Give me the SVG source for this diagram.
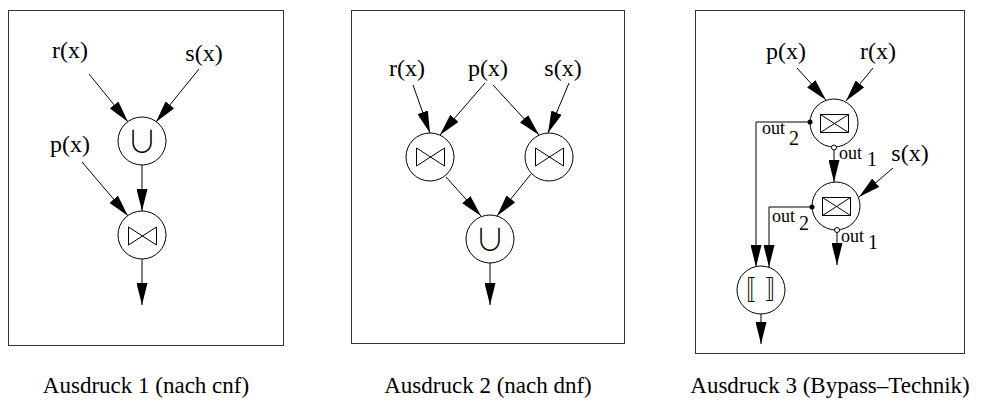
<svg xmlns="http://www.w3.org/2000/svg" width="992" height="402" viewBox="0 0 992 402">
<defs>
<marker id="ah" markerUnits="userSpaceOnUse" markerWidth="22" markerHeight="11" refX="22" refY="5.5" orient="auto">
<path d="M0,0 L22,5.5 L0,11 Z" fill="#000"/>
</marker>
<style>
.frame{fill:#fff;stroke:#333;stroke-width:1}
.node{fill:#fff;stroke:#000;stroke-width:1}
.sym{fill:none;stroke:#000;stroke-width:1}
.edge{fill:none;stroke:#000;stroke-width:1;marker-end:url(#ah)}
.lbl{font-family:"Liberation Serif","Times New Roman",serif;font-size:24px;fill:#000;text-anchor:middle}
.cap{font-family:"Liberation Serif","Times New Roman",serif;font-size:23px;fill:#000;text-anchor:middle}
.out{font-family:"Liberation Serif","Times New Roman",serif;font-size:18px;fill:#000}
.sub{font-size:20px}
.op{font-family:"Noto Sans CJK JP","DejaVu Sans",sans-serif;font-size:30px;font-weight:300;fill:#000;text-anchor:middle}
.br{font-family:"Noto Sans CJK JP","DejaVu Sans",sans-serif;font-size:25px;font-weight:300;fill:#000;text-anchor:middle}
</style>
</defs>
<rect width="992" height="402" fill="#fff"/>

<g id="frames">
<rect class="frame" x="8.5" y="10.5" width="275" height="335"/>
<rect class="frame" x="351.5" y="10.5" width="273" height="333"/>
<rect class="frame" x="695.5" y="10.5" width="269" height="343"/>
</g>

<g id="connectors">
<line class="edge" x1="89" y1="74" x2="128" y2="122"/>
<line class="edge" x1="199" y1="69" x2="156" y2="122"/>
<line class="edge" x1="82" y1="162" x2="128" y2="216"/>
<line class="edge" x1="142" y1="165" x2="142" y2="211"/>
<line class="edge" x1="142" y1="259" x2="142" y2="305"/>
<line class="edge" x1="413" y1="85" x2="430" y2="133"/>
<line class="edge" x1="485" y1="83" x2="440" y2="135"/>
<line class="edge" x1="493" y1="85" x2="539" y2="135"/>
<line class="edge" x1="569" y1="83" x2="548" y2="133"/>
<line class="edge" x1="446" y1="177" x2="481" y2="216"/>
<line class="edge" x1="531" y1="174" x2="497" y2="216"/>
<line class="edge" x1="490" y1="263" x2="490" y2="305"/>
<line class="edge" x1="797" y1="68" x2="826" y2="100"/>
<line class="edge" x1="873" y1="68" x2="846" y2="101"/>
<polyline class="edge" points="810,122 756,122 756,267"/>
<line class="edge" x1="834" y1="150" x2="834" y2="182"/>
<line class="edge" x1="893" y1="168" x2="859" y2="197"/>
<polyline class="edge" points="812,207 769,207 769,267"/>
<line class="edge" x1="837" y1="232" x2="837" y2="265"/>
<line class="edge" x1="761" y1="314" x2="761" y2="344"/>
</g>

<g id="p1-r"><text class="lbl" x="70" y="58">r(x)</text></g>
<g id="p1-s"><text class="lbl" x="204" y="61">s(x)</text></g>
<g id="p1-p"><text class="lbl" x="70" y="152">p(x)</text></g>
<g id="p1-union">
<circle class="node" cx="142" cy="141" r="24"/>
<text class="op" x="142" y="152">∪</text>
</g>
<g id="p1-join">
<circle class="node" cx="142" cy="235" r="24"/>
<path class="sym" d="M128.5,227 V245 L156.5,227 V245 Z"/>
</g>

<g id="p2-r"><text class="lbl" x="407" y="76">r(x)</text></g>
<g id="p2-p"><text class="lbl" x="488" y="76">p(x)</text></g>
<g id="p2-s"><text class="lbl" x="563" y="76">s(x)</text></g>
<g id="p2-join-left">
<circle class="node" cx="430" cy="157" r="24"/>
<path class="sym" d="M416.5,148 V166 L444.5,148 V166 Z"/>
</g>
<g id="p2-join-right">
<circle class="node" cx="549" cy="157" r="24"/>
<path class="sym" d="M535.5,148 V166 L563.5,148 V166 Z"/>
</g>
<g id="p2-union">
<circle class="node" cx="490" cy="239" r="24"/>
<text class="op" x="490" y="250">∪</text>
</g>

<g id="p3-p"><text class="lbl" x="786" y="59">p(x)</text></g>
<g id="p3-r"><text class="lbl" x="878" y="59">r(x)</text></g>
<g id="p3-s"><text class="lbl" x="910" y="161">s(x)</text></g>
<g id="p3-bypass-top">
<circle class="node" cx="834" cy="123" r="24"/>
<rect class="sym" x="820.5" y="114.5" width="28" height="18"/>
<path class="sym" d="M820.5,114.5 L848.5,132.5 M848.5,114.5 L820.5,132.5"/>
<circle cx="810" cy="122" r="2.5" fill="#000"/>
<circle cx="834" cy="147.5" r="2.5" fill="#fff" stroke="#000" stroke-width="1"/>
<text class="out" x="762" y="134">out<tspan class="sub" x="789" y="145">2</tspan></text>
<text class="out" x="839" y="159">out<tspan class="sub" x="867" y="166">1</tspan></text>
</g>
<g id="p3-bypass-mid">
<circle class="node" cx="836" cy="206" r="24"/>
<rect class="sym" x="822.5" y="197.5" width="28" height="18"/>
<path class="sym" d="M822.5,197.5 L850.5,215.5 M850.5,197.5 L822.5,215.5"/>
<circle cx="812" cy="207" r="2.5" fill="#000"/>
<circle cx="837" cy="230" r="2.5" fill="#fff" stroke="#000" stroke-width="1"/>
<text class="out" x="772" y="222">out<tspan class="sub" x="799" y="230">2</tspan></text>
<text class="out" x="841" y="242">out<tspan class="sub" x="868" y="249">1</tspan></text>
</g>
<g id="p3-merge">
<circle class="node" cx="761" cy="290" r="24"/>
<text class="br" x="761" y="299"><tspan x="743">〚</tspan><tspan x="778">〛</tspan></text>
</g>

<g id="captions">
<text class="cap" x="146" y="393">Ausdruck 1 (nach cnf)</text>
<text class="cap" x="488" y="393">Ausdruck 2 (nach dnf)</text>
<text class="cap" x="830" y="393">Ausdruck 3 (Bypass–Technik)</text>
</g>
</svg>
